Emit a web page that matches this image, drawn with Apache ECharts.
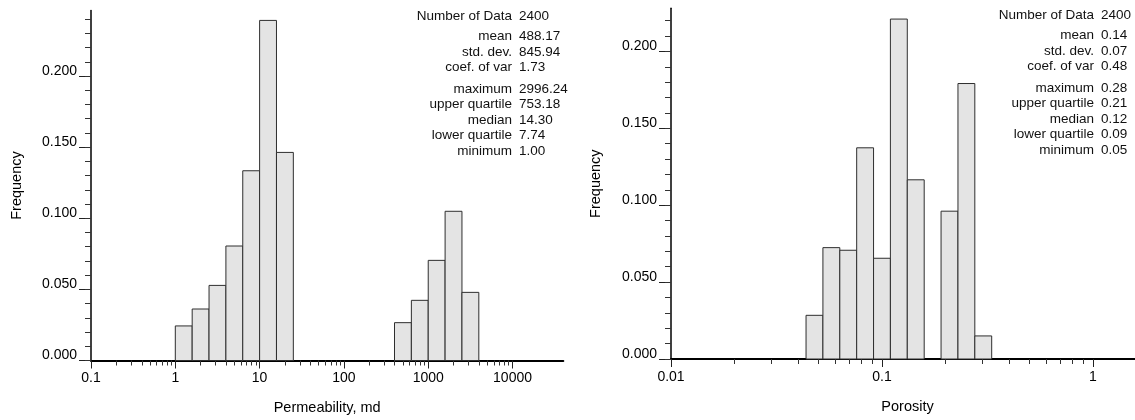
<!DOCTYPE html>
<html><head><meta charset="utf-8">
<script src="https://cdn.jsdelivr.net/npm/echarts@6/dist/echarts.min.js"></script>
<style>html,body{margin:0;padding:0;background:#fff}#c{width:1135px;height:420px}</style>
</head><body><div id="c"></div>
<script>
// ---- data ----
const permBinLow  = [1, 1.585, 2.512, 3.981, 6.310, 10, 15.85, 398.1, 631.0, 1000, 1585, 2512];
const permBinHigh = [1.585, 2.512, 3.981, 6.310, 10, 15.85, 25.12, 631.0, 1000, 1585, 2512, 3981];
const permFreq    = [0.0243, 0.0362, 0.0528, 0.0805, 0.1334, 0.2391, 0.1463, 0.0266, 0.0423, 0.0704, 0.1049, 0.0479];

const poroBinLow  = [0.04365, 0.05248, 0.06310, 0.07586, 0.09120, 0.1096, 0.1318, 0.1905, 0.2291, 0.2754];
const poroBinHigh = [0.05248, 0.06310, 0.07586, 0.09120, 0.1096, 0.1318, 0.1585, 0.2291, 0.2754, 0.3311];
const poroFreq    = [0.0284, 0.0724, 0.0707, 0.1373, 0.0655, 0.2210, 0.1165, 0.0961, 0.1791, 0.0150];

const permTicks = [0.1, 1, 10, 100, 1000, 10000];
const poroTicks = [0.01, 0.1, 1];
const freqTicks = [0, 0.05, 0.1, 0.15, 0.2];

const statNames = ['Number of Data', 'mean', 'std. dev.', 'coef. of var', 'maximum', 'upper quartile', 'median', 'lower quartile', 'minimum'];
const permStats = ['2400', '488.17', '845.94', '1.73', '2996.24', '753.18', '14.30', '7.74', '1.00'];
const poroStats = ['2400', '0.14', '0.07', '0.48', '0.28', '0.21', '0.12', '0.09', '0.05'];

// ---- helpers ----
const FONT = '"Liberation Sans", Arial, Helvetica, sans-serif';
function logMinor(decades) {
  const out = [];
  for (let i = 0; i < decades.length - 1; i++) {
    for (let m = 2; m <= 9; m++) out.push(+(decades[i] * m).toPrecision(6));
  }
  return out;
}
function linMinor(step, n) {
  const out = [];
  for (let k = 0; k <= n; k++) out.push(+(k * step).toFixed(4));
  return out;
}
function binData(lo, hi, f) { return lo.map((v, i) => [v, hi[i], f[i]]); }

function renderBar(params, api) {
  const p0 = api.coord([api.value(0), api.value(2)]);
  const p1 = api.coord([api.value(1), 0]);
  return {
    type: 'rect',
    shape: { x: p0[0], y: p0[1], width: p1[0] - p0[0], height: p1[1] - p0[1] },
    style: { fill: '#e4e4e4', stroke: '#2e2e2e', lineWidth: 1 }
  };
}

function xAxes(grid, min, max, ticks, name) {
  return [{
    gridIndex: grid, type: 'log', logBase: 10, min: min, max: max, position: 'bottom',
    name: name, nameLocation: 'middle', nameGap: 40,
    nameTextStyle: { color: '#000', fontSize: 14.5, fontFamily: FONT },
    axisLine: { show: true, onZero: false, lineStyle: { color: '#000', width: 2 } },
    axisTick: { show: true, customValues: ticks, length: 8, lineStyle: { color: '#222', width: 1 } },
    axisLabel: { show: true, customValues: ticks, margin: 11, color: '#000', fontSize: 14, fontFamily: FONT,
                 formatter: v => String(+(+v).toPrecision(6)) },
    splitLine: { show: false }, minorTick: { show: false }
  }, {
    gridIndex: grid, type: 'log', logBase: 10, min: min, max: max, position: 'bottom',
    axisLine: { show: false, onZero: false },
    axisTick: { show: true, customValues: logMinor(ticks), length: 5, lineStyle: { color: '#333', width: 1 } },
    axisLabel: { show: false }, splitLine: { show: false }
  }];
}
function yAxes(grid, max, nMinor, gap) {
  return [{
    gridIndex: grid, type: 'value', min: 0, max: max, position: 'left',
    name: 'Frequency', nameLocation: 'middle', nameGap: gap, nameRotate: 90,
    nameTextStyle: { color: '#000', fontSize: 14.5, fontFamily: FONT },
    axisLine: { show: true, lineStyle: { color: '#000', width: 1.5 } },
    axisTick: { show: true, customValues: freqTicks, length: 12, lineStyle: { color: '#222', width: 1 } },
    axisLabel: { show: true, customValues: freqTicks, margin: 14, color: '#000', fontSize: 14, fontFamily: FONT,
                 verticalAlign: 'bottom', lineHeight: 10, formatter: v => (+v).toFixed(3) },
    splitLine: { show: false }
  }, {
    gridIndex: grid, type: 'value', min: 0, max: max, position: 'left', offset: 0,
    axisLine: { show: false },
    axisTick: { show: true, customValues: linMinor(0.01, nMinor), length: 6, lineStyle: { color: '#333', width: 1 } },
    axisLabel: { show: false }, splitLine: { show: false }
  }];
}

const lineOffsets = [0, 20.5, 36, 51.5, 73, 88.5, 104, 119.5, 135];
function statBlock(xSplit, top, values) {
  const g = [];
  statNames.forEach((n, i) => {
    g.push({ type: 'text', x: xSplit - 3, y: top + lineOffsets[i], silent: true,
      style: { text: n, align: 'right', verticalAlign: 'middle', fill: '#111', font: '13.5px ' + FONT } });
    g.push({ type: 'text', x: xSplit + 4, y: top + lineOffsets[i], silent: true,
      style: { text: values[i], align: 'left', verticalAlign: 'middle', fill: '#111', font: '13.5px ' + FONT } });
  });
  return g;
}

const chart = echarts.init(document.getElementById('c'), null, { renderer: 'canvas' });
chart.setOption({
  backgroundColor: '#fff',
  animation: false,
  grid: [
    { left: 91, top: 10.6, width: 472.3, height: 349.9, outerBoundsMode: 'none', containLabel: false },
    { left: 671, top: 8.3, width: 473, height: 350.7, outerBoundsMode: 'none', containLabel: false }
  ],
  xAxis: [].concat(xAxes(0, 0.1, 40000, permTicks, 'Permeability, md'),
                   xAxes(1, 0.01, 1.745, poroTicks, 'Porosity')),
  yAxis: [].concat(yAxes(0, 0.246, 24, 67), yAxes(1, 0.228, 22, 68)),
  series: [
    { type: 'custom', xAxisIndex: 0, yAxisIndex: 0, renderItem: renderBar,
      encode: { x: [0, 1], y: 2 }, data: binData(permBinLow, permBinHigh, permFreq) },
    { type: 'custom', xAxisIndex: 2, yAxisIndex: 2, renderItem: renderBar,
      encode: { x: [0, 1], y: 2 }, data: binData(poroBinLow, poroBinHigh, poroFreq) }
  ],
  graphic: [].concat(statBlock(515, 16, permStats), statBlock(1097, 15, poroStats))
});
</script></body></html>
